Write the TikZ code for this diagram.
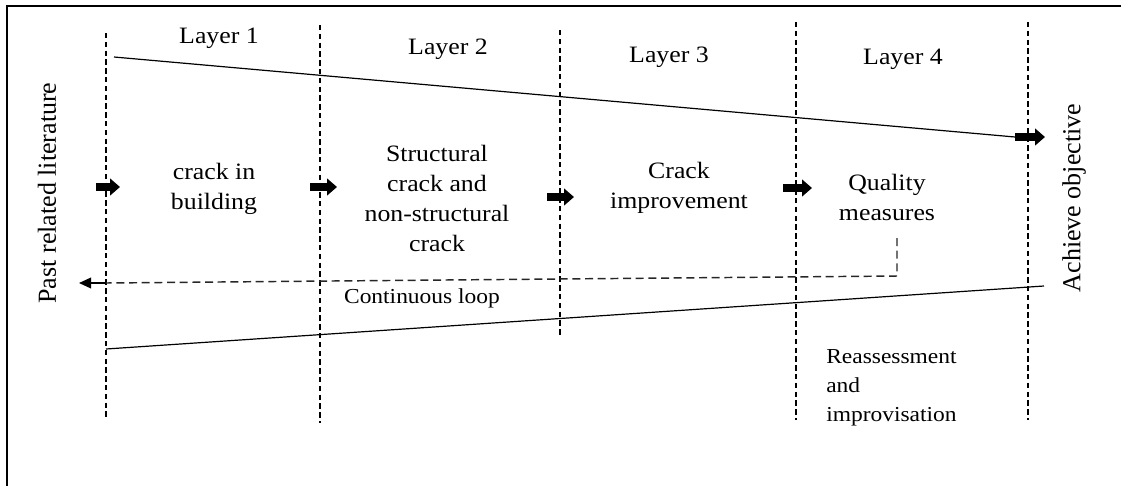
\documentclass[tikz,border=0pt]{standalone}
\usepackage{fontspec}
\setmainfont{Liberation Serif}
\newfontfamily\widefont[FakeStretch=1.1]{Liberation Serif}
\usetikzlibrary{arrows.meta}

\begin{document}
\begin{tikzpicture}[x=0.75pt,y=-0.75pt,
  frame/.style={line width=1.5pt},
  divider/.style={line width=1.1pt, dash pattern=on 4pt off 2.6pt},
  blockarrow/.style={line width=6pt, -{Triangle[length=7.5pt,width=12.5pt]}},
  thinline/.style={line width=0.9pt},
  loopline/.style={line width=1.1pt, draw=black!85, dash pattern=on 6pt off 3.5pt},
  looptip/.style={line width=1.1pt, -{Triangle[length=9pt,width=8pt]}},
  mainlabel/.style={font=\widefont\fontsize{17.6pt}{22.5pt}\selectfont, align=center, inner sep=0pt},
  minorlabel/.style={font=\widefont\fontsize{16pt}{21.75pt}\selectfont, align=left, inner sep=0pt},
  sidelabel/.style={font=\fontsize{19.5pt}{23pt}\selectfont, rotate=90, inner sep=0pt}]

\useasboundingbox (0,0) rectangle (1121,486);

% outer frame (top and left edges)
\draw[frame] (7,486) -- (7,6) -- (1121,6);

% layer dividers
\draw[divider] (106,33) -- (106,420);
\draw[divider] (320,25) -- (320,423);
\draw[divider] (560,30) -- (560,335);
\draw[divider] (796,22) -- (796,420);
\draw[divider] (1028,22) -- (1028,420);

% layer titles
\node[mainlabel] (l1) at (219,38) {Layer 1};
\node[mainlabel] (l2) at (448,49) {Layer 2};
\node[mainlabel] (l3) at (669,57) {Layer 3};
\node[mainlabel] (l4) at (903,59) {Layer 4};

% side labels
\node[sidelabel] (past) at (47,193) {Past related literature};
\node[sidelabel] (goal) at (1074,198) {Achieve objective};

% stage texts
\node[mainlabel] (s1) at (214,189) {crack in\\building};
\node[mainlabel] (s2) at (437,198) {Structural\\crack and\\non-structural\\crack};
\node[mainlabel] (s3) at (679,188) {Crack\\improvement};
\node[mainlabel] (s4) at (887,197) {Quality\\measures};
\node[minorlabel, anchor=north west] (re) at (826,349) {Reassessment\\and\\improvisation};
\node[minorlabel, anchor=center] (loop) at (422,298) {Continuous loop};

% flow arrows
\coordinate (a1s) at (96,187);   \coordinate (a1e) at (120,187);
\coordinate (a2s) at (310,187);  \coordinate (a2e) at (337,187);
\coordinate (a3s) at (547,197);  \coordinate (a3e) at (574,197);
\coordinate (a4s) at (783,188);  \coordinate (a4e) at (812,188);
\draw[blockarrow] (a1s) -- (a1e);
\draw[blockarrow] (a2s) -- (a2e);
\draw[blockarrow] (a3s) -- (a3e);
\draw[blockarrow] (a4s) -- (a4e);

% upper trend line to the objective
\coordinate (topstart) at (114,57);
\coordinate (topend) at (1015,137);
\coordinate (objtip) at (1045,137);
\draw[thinline] (topstart) -- (topend);
\draw[blockarrow] (topend) -- (objtip);

% lower trend line
\coordinate (botstart) at (106,349);
\coordinate (botend) at (1044,286);
\draw[thinline] (botstart) -- (botend);

% feedback loop
\coordinate (qa) at (897,238);
\coordinate (qb) at (897,276);
\coordinate (qc) at (106,283);
\coordinate (qd) at (79,283);
\draw[loopline] (qa) -- (qb) -- (qc);
\draw[looptip] (qc) -- (qd);
\end{tikzpicture}
\end{document}
